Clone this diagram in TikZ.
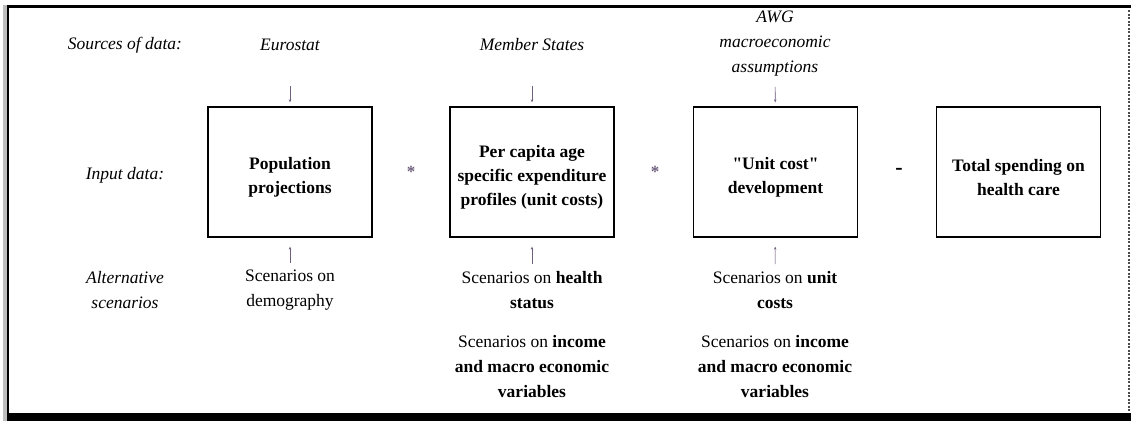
\documentclass[tikz,border=0pt]{standalone}
\usepackage{fontspec}
\setmainfont{Liberation Serif}[Ligatures=TeXOff]
\usetikzlibrary{arrows.meta}

\definecolor{arrowgray}{RGB}{110,95,125}
\definecolor{framegray}{RGB}{190,190,190}

\begin{document}
\begin{tikzpicture}[x=1pt, y=-1pt,
    every node/.style={font=\fontsize{17.5}{25}\selectfont, align=center, inner sep=2pt},
    lbl/.style={font=\fontsize{17.5}{25}\selectfont\itshape},
    src/.style={font=\fontsize{17.5}{25}\selectfont\itshape},
    inbox/.style={draw, line width=1.3pt, minimum width=164pt, minimum height=130pt},
    boxtext/.style={font=\fontsize{17.5}{24}\selectfont\bfseries, yshift=-5.5pt, align=center},
    op/.style={font=\fontsize{22}{25}\selectfont\bfseries},
    star/.style={font=\fontsize{17}{17}\selectfont\bfseries, text=arrowgray},
    arr/.style={-{Stealth[length=3pt, width=2.5pt]}, draw=arrowgray, fill=arrowgray, line width=0.6pt}]
    \useasboundingbox (0,0) rectangle (1131,421);

    % frame
    \fill[framegray] (3,5) rectangle (7,421);
    \draw[line width=2pt] (8,5) -- (8,415);
    \draw[line width=3pt] (7,6.5) -- (1131,6.5);
    \fill (7,413) rectangle (1131,421);
    \draw[line width=1.2pt, dash pattern=on 2pt off 1.5pt, black!70] (1129,10) -- (1129,412);

    % row labels
    \node[lbl] (srclbl) at (125,45) {Sources of data:};
    \node[lbl] (inlbl) at (125,175) {Input data:};
    \node[lbl] (altlbl) at (125,290) {Alternative\\scenarios};

    % sources
    \node[src] (eurostat) at (290,45) {Eurostat};
    \node[src] (members) at (532,45) {Member States};
    \node[src] (awg) at (775,44) {AWG\\macroeconomic\\assumptions};

    % input boxes
    \node[inbox, label={[boxtext]center:Population\\projections}] (pop) at (290,172) {};
    \node[inbox, label={[boxtext]center:Per capita age\\specific expenditure\\profiles (unit costs)}] (prof) at (532,172) {};
    \node[inbox, label={[boxtext]center:"Unit cost"\\development}] (unit) at (775.5,172) {};
    \node[inbox, label={[boxtext]center:Total spending on\\health care}] (total) at (1018.5,172) {};

    % operators
    \node[star] (times1) at (411,172) {*};
    \node[star] (times2) at (655,172) {*};
    \node[op] (equals) at (899,171) {-};

    % scenarios
    \node (scdem) at (290,290) {Scenarios on\\demography};
    \node (schealth) at (532,290) {Scenarios on \textbf{health}\\\textbf{status}};
    \node (scunit) at (775,290) {Scenarios on \textbf{unit}\\\textbf{costs}};
    \node (scinc1) at (532,367) {Scenarios on \textbf{income}\\\textbf{and macro economic}\\\textbf{variables}};
    \node (scinc2) at (775,367) {Scenarios on \textbf{income}\\\textbf{and macro economic}\\\textbf{variables}};

    % arrows into the boxes
    \draw[arr, shorten <=33pt, shorten >=4pt] (eurostat) -- (pop);
    \draw[arr, shorten <=33pt, shorten >=4pt] (members) -- (prof);
    \draw[arr, shorten <=8pt, shorten >=4pt] (awg) -- (unit);
    \draw[arr, shorten <=5pt, shorten >=9pt] (scdem) -- (pop);
    \draw[arr, shorten <=5pt, shorten >=9pt] (schealth) -- (prof);
    \draw[arr, shorten <=5pt, shorten >=9pt] (scunit) -- (unit);
\end{tikzpicture}
\end{document}
